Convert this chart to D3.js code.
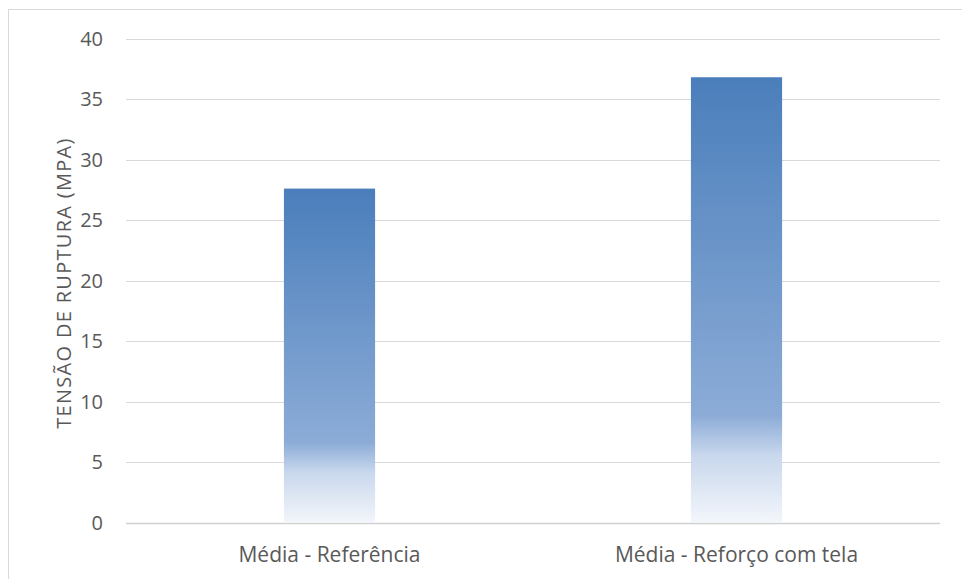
<!DOCTYPE html>
<html><head><meta charset="utf-8">
<script src="https://cdn.jsdelivr.net/npm/d3@7"></script>
<style>body{margin:0;background:#fff}svg{display:block}</style>
</head><body>
<svg id="c" width="962" height="579"></svg>
<script>
const categories = ["Média - Referência", "Média - Reforço com tela"];
const values = [27.6, 36.8];
const yTicks = [0, 5, 10, 15, 20, 25, 30, 35, 40];
const yTitle = "TENSÃO DE RUPTURA (MPA)";

(function () {
const svg = d3.select("#c");
const font = "'Open Sans', sans-serif";
const pL = 126, pR = 940, pT = 38.5, pB = 522.7;

svg.append("rect").attr("x", 8.5).attr("y", 9.5).attr("width", 1000).attr("height", 1000)
  .attr("fill", "none").attr("stroke", "#d9d9d9");

const x = d3.scaleBand().domain(categories).range([pL, pR]).padding(0);
const y = d3.scaleLinear().domain([0, 40]).range([pB, pT]);

const defs = svg.append("defs");
const g = defs.append("linearGradient").attr("id", "grad").attr("x1", 0).attr("y1", 0).attr("x2", 0).attr("y2", 1);
[[0, "#4a7ebb"], [0.76, "#8cacd7"], [0.85, "#c9d8ed"], [1, "#f3f6fb"]].forEach(([o, c]) =>
  g.append("stop").attr("offset", o).attr("stop-color", c));

svg.append("g").selectAll("line").data(yTicks).join("line")
  .attr("x1", pL).attr("x2", pR)
  .attr("y1", d => Math.round(y(d)) + 0.5).attr("y2", d => Math.round(y(d)) + 0.5)
  .attr("stroke", d => d === 0 ? "#d0d0d0" : "#d9d9d9").attr("stroke-width", d => d === 0 ? 1.5 : 1);

svg.append("g").selectAll("text").data(yTicks).join("text")
  .attr("x", 103).attr("y", d => y(d)).attr("dy", "0.36em")
  .attr("text-anchor", "end").attr("font-family", font).attr("font-size", 20).attr("fill", "#595959")
  .text(d => d);

const bw = x.bandwidth() * 0.224;
svg.append("g").selectAll("rect").data(values).join("rect")
  .attr("x", (d, i) => x(categories[i]) + x.bandwidth() / 2 - bw / 2)
  .attr("width", bw)
  .attr("y", d => y(d)).attr("height", d => y(0) - y(d))
  .attr("fill", "url(#grad)");

svg.append("g").selectAll("text").data(categories).join("text")
  .attr("x", d => x(d) + x.bandwidth() / 2).attr("y", 562)
  .attr("text-anchor", "middle").attr("font-family", font).attr("font-size", 21).attr("fill", "#595959")
  .text(d => d);

svg.append("text").attr("transform", `translate(71,283) rotate(-90)`)
  .attr("text-anchor", "middle").attr("font-family", font).attr("font-size", 20)
  .attr("letter-spacing", 1.3).attr("fill", "#595959")
  .text(yTitle);
})();
</script>
</body></html>
